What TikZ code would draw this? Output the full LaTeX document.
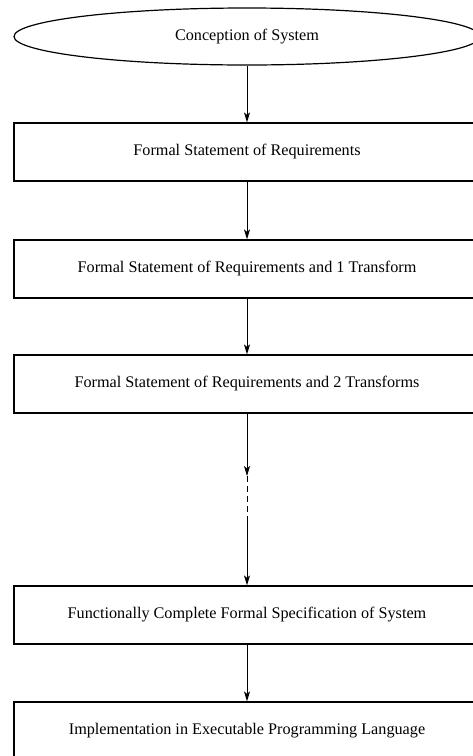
\documentclass[tikz,border=0pt]{standalone}
\usepackage{fontspec}
\setmainfont{Liberation Serif}
\usetikzlibrary{shapes.geometric,arrows.meta}
\begin{document}
\begin{tikzpicture}[x=1pt,y=-1pt,
  every node/.style={font=\fontsize{16.2}{19}\selectfont},
  stagebox/.style={draw,line width=1.2pt,minimum width=466pt,minimum height=58pt,inner sep=0pt},
  startoval/.style={draw,ellipse,line width=1.2pt,minimum width=466pt,minimum height=57pt,inner sep=0pt},
  flow/.style={line width=1pt,-{Stealth[length=10pt,width=6pt,inset=2.5pt]}},
  gapline/.style={line width=1pt,dash pattern=on 6pt off 4pt}]
\useasboundingbox (0,0) rectangle (473,756);
\clip (0,0) rectangle (473,756);
\fill[white] (0,0) rectangle (473,756);
\node[startoval] (c) at (247,36.5) {Conception of System};
\node[stagebox] (b1) at (247,152) {Formal Statement of Requirements};
\node[stagebox] (b2) at (247,269) {Formal Statement of Requirements and 1 Transform};
\node[stagebox] (b3) at (247,384) {Formal Statement of Requirements and 2 Transforms};
\node[stagebox] (b4) at (247,615) {Functionally Complete Formal Specification of System};
\node[stagebox] (b5) at (247,731) {Implementation in Executable Programming Language};
\coordinate (m1) at (247,476);
\coordinate (m2) at (247,522);
\draw[flow] (c) -- (b1);
\draw[flow] (b1) -- (b2);
\draw[flow] (b2) -- (b3);
\draw[flow] (b3) -- (m1);
\draw[gapline] (m1) -- (m2);
\draw[flow] (m2) -- (b4);
\draw[flow] (b4) -- (b5);
\end{tikzpicture}
\end{document}
